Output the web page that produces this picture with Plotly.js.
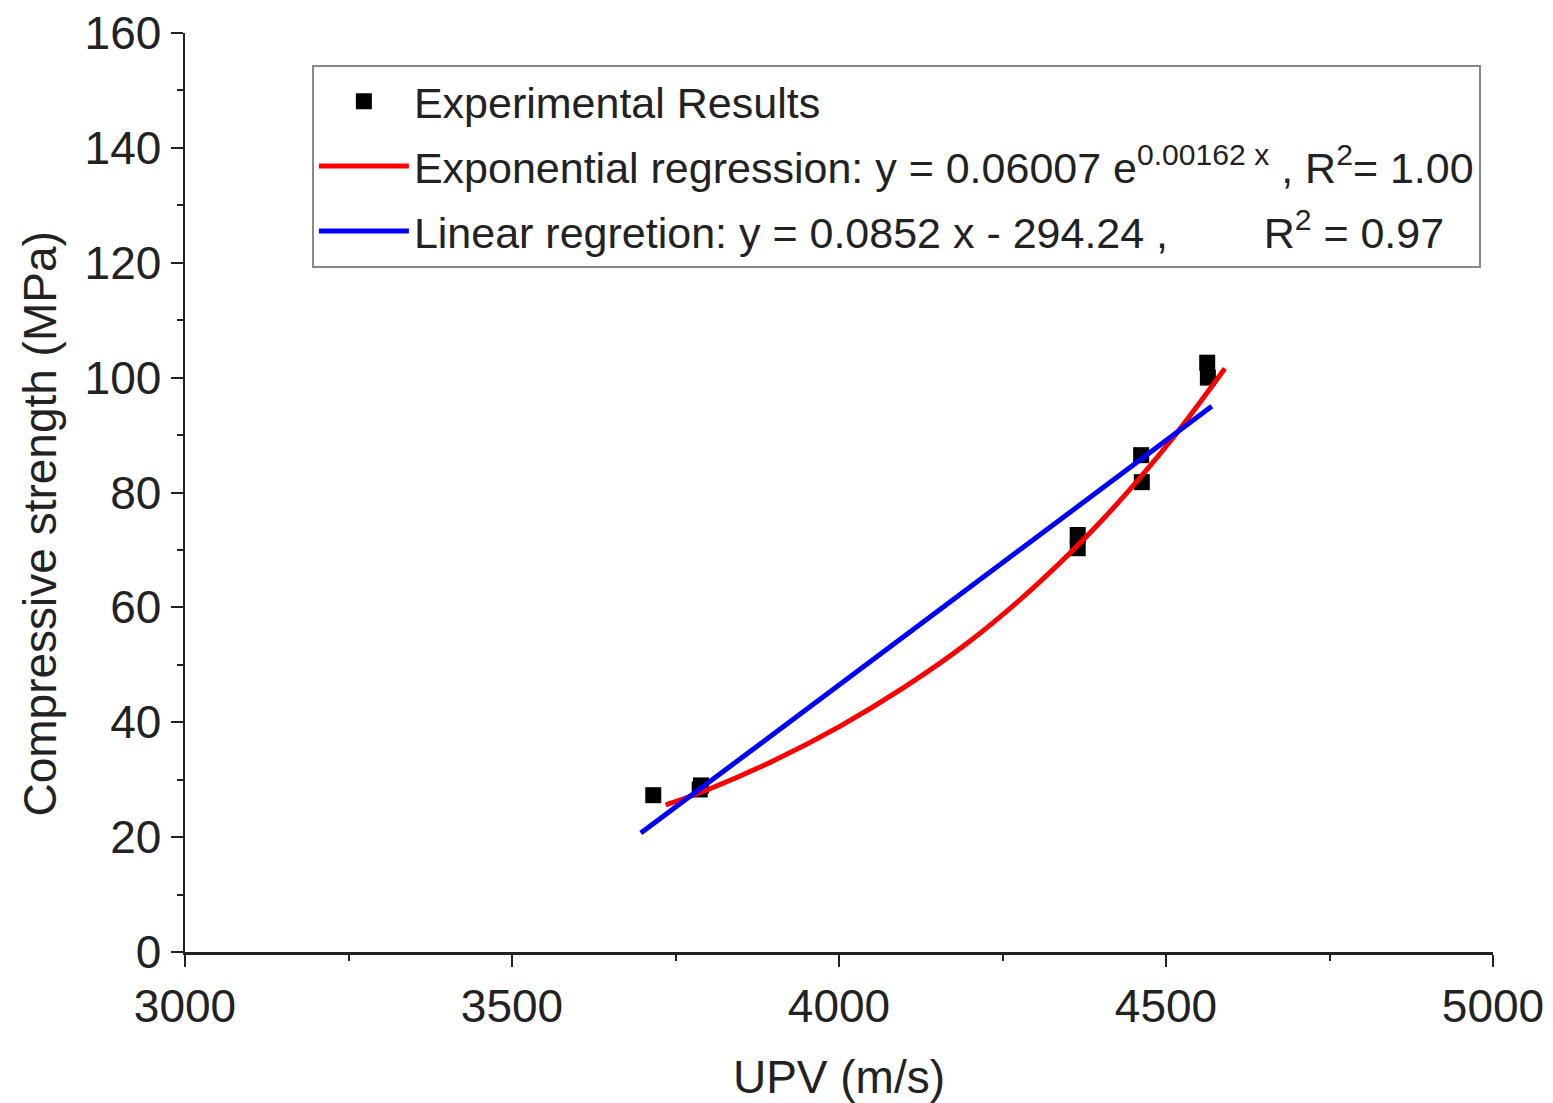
<!DOCTYPE html>
<html>
<head>
<meta charset="utf-8">
<script src="https://cdn.plot.ly/plotly-3.0.1.min.js"></script>
<style>html,body{margin:0;padding:0;background:#fff;}#chart{width:1553px;height:1103px;}</style>
</head>
<body>
<div id="chart"></div>
<script>
// Experimental results (UPV m/s, compressive strength MPa)
const expUPV = [3716, 3787, 3789, 4365, 4365, 4462, 4463, 4563, 4564];
const expStrength = [27.3, 28.3, 29.0, 72.6, 70.3, 86.5, 81.8, 102.6, 100.0];

// Exponential regression curve
const expCurveUPV = [3735, 3800, 3900, 4000, 4100, 4200, 4300, 4400, 4500, 4590];
const expCurveStrength = [25.6, 28.3, 33.3, 39.2, 46.1, 54.1, 63.7, 74.9, 88.0, 101.6];

// Linear regression line
const linUPV = [3697, 4570];
const linStrength = [20.7, 95.0];

const legendNames = [
  'Experimental Results',
  'Exponential regression: y = 0.06007 e<sup>0.00162 x</sup> , R<sup>2</sup>= 1.00',
  'Linear regretion: y = 0.0852 x - 294.24 ,\u00A0\u00A0\u00A0\u00A0\u00A0\u00A0\u00A0\u00A0R<sup>2</sup> = 0.97'
];
const xTitle = 'UPV (m/s)';
const yTitle = 'Compressive strength (MPa)';

const font = 'Liberation Sans, Arial, sans-serif';

const traces = [
  {x: expUPV, y: expStrength, mode: 'markers', type: 'scatter', name: legendNames[0], legendgroup: 'a',
   marker: {symbol: 'square', size: 16, color: '#000'}},
  {x: expCurveUPV, y: expCurveStrength, mode: 'lines', type: 'scatter', name: legendNames[1], legendgroup: 'b',
   line: {color: '#ff0000', width: 5, shape: 'spline'}},
  {x: linUPV, y: linStrength, mode: 'lines', type: 'scatter', name: legendNames[2], legendgroup: 'c',
   line: {color: '#0000ff', width: 5}}
];

const layout = {
  width: 1553, height: 1103,
  margin: {l: 185, r: 60, t: 33, b: 151},
  paper_bgcolor: '#fff', plot_bgcolor: '#fff',
  font: {family: font, size: 46, color: '#222'},
  showlegend: true,
  legend: {x: 0.097, y: 0.9655, xanchor: 'left', yanchor: 'top',
           bordercolor: '#888', borderwidth: 2, bgcolor: 'rgba(255,255,255,0)',
           font: {family: font, size: 43, color: '#222'},
           itemwidth: 90, tracegroupgap: 6},
  xaxis: {
    range: [3000, 5000], tickvals: [3000, 3500, 4000, 4500, 5000],
    ticks: 'outside', ticklen: 12, tickwidth: 2, tickcolor: '#222',
    showline: true, linecolor: '#222', linewidth: 2.5, showgrid: false, zeroline: false,
    minor: {dtick: 250, ticks: 'outside', ticklen: 6, tickwidth: 2, tickcolor: '#222', showgrid: false},
    tickfont: {size: 46},
    title: {text: xTitle, font: {size: 46}, standoff: 32}
  },
  yaxis: {
    range: [0, 160], dtick: 20,
    ticks: 'outside', ticklen: 12, tickwidth: 2, tickcolor: '#222',
    showline: true, linecolor: '#222', linewidth: 2.5, showgrid: false, zeroline: false,
    minor: {dtick: 10, ticks: 'outside', ticklen: 6, tickwidth: 2, tickcolor: '#222', showgrid: false},
    tickfont: {size: 46}
  },
  annotations: [{
    text: yTitle, textangle: -90, showarrow: false,
    xref: 'paper', yref: 'paper', x: -0.111, y: 0.466, xanchor: 'center', yanchor: 'middle',
    font: {family: font, size: 46, color: '#222'}
  }]
};

Plotly.newPlot('chart', traces, layout, {displayModeBar: false, staticPlot: true});
</script>
</body>
</html>
